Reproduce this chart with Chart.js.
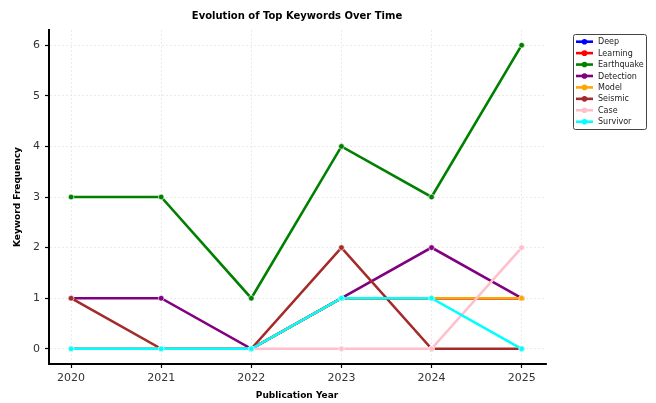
<!DOCTYPE html>
<html>
<head>
<meta charset="utf-8">
<script src="https://cdn.jsdelivr.net/npm/chart.js@4/dist/chart.umd.min.js"></script>
<style>
  html, body { margin: 0; padding: 0; background: #fff; }
  #wrap { width: 656px; height: 403px; position: relative; }
</style>
</head>
<body>
<div id="wrap"><canvas id="c" width="656" height="403"></canvas></div>
<script>
// Publication years on the x axis
const years = [2020, 2021, 2022, 2023, 2024, 2025];

// Keyword counts per year
const deep       = [0, 0, 0, 1, 1, 1];
const learning   = [0, 0, 0, 1, 1, 1];
const earthquake = [3, 3, 1, 4, 3, 6];
const detection  = [1, 1, 0, 1, 2, 1];
const model      = [0, 0, 0, 1, 1, 1];
const seismic    = [1, 0, 0, 2, 0, 0];
const caseCounts = [0, 0, 0, 0, 0, 2];
const survivor   = [0, 0, 0, 1, 1, 0];

const keywords = ['Deep', 'Learning', 'Earthquake', 'Detection', 'Model', 'Seismic', 'Case', 'Survivor'];
const seriesValues = [deep, learning, earthquake, detection, model, seismic, caseCounts, survivor];
const colors = ['#0000ff', '#ff0000', '#008000', '#800080', '#ffa500', '#a52a2a', '#ffc0cb', '#00ffff'];
const yTicks = [0, 1, 2, 3, 4, 5, 6];

const FONT = "'DejaVu Sans', sans-serif";

const datasets = keywords.map((name, i) => ({
  label: name,
  data: years.map((y, j) => ({ x: y, y: seriesValues[i][j] })),
  borderColor: colors[i],
  backgroundColor: colors[i],
  pointBackgroundColor: colors[i],
  pointBorderColor: '#ffffff',
  pointBorderWidth: 0.6,
  pointRadius: 2.8,
  borderWidth: 2.6,
  tension: 0,
  order: keywords.length - i  // later keywords drawn on top
}));

// Title, axis titles and the framed legend
const decorations = {
  id: 'decorations',
  afterDraw(chart) {
    const ctx = chart.ctx;
    ctx.save();
    ctx.fillStyle = '#000';
    ctx.textAlign = 'center';
    ctx.textBaseline = 'middle';
    ctx.font = `bold 10px ${FONT}`;
    ctx.fillText('Evolution of Top Keywords Over Time', 297, 16);
    ctx.font = `bold 9px ${FONT}`;
    ctx.fillText('Publication Year', 297, 396);
    ctx.save();
    ctx.translate(18, 197);
    ctx.rotate(-Math.PI / 2);
    ctx.fillText('Keyword Frequency', 0, 0);
    ctx.restore();

    // legend frame
    const bx = 573, by = 34, bw = 73, bh = 95;
    ctx.beginPath();
    if (ctx.roundRect) ctx.roundRect(bx + 0.5, by + 0.5, bw, bh, 2); else ctx.rect(bx + 0.5, by + 0.5, bw, bh);
    ctx.fillStyle = '#fff';
    ctx.fill();
    ctx.strokeStyle = '#444';
    ctx.lineWidth = 1;
    ctx.stroke();

    ctx.font = `8px ${FONT}`;
    ctx.textAlign = 'left';
    keywords.forEach((name, i) => {
      const y = 41.7 + i * 11.43;
      ctx.strokeStyle = colors[i];
      ctx.lineWidth = 2.6;
      ctx.beginPath();
      ctx.moveTo(576, y);
      ctx.lineTo(593, y);
      ctx.stroke();
      ctx.beginPath();
      ctx.arc(584.5, y, 2.8, 0, Math.PI * 2);
      ctx.fillStyle = colors[i];
      ctx.fill();
      ctx.fillStyle = '#222';
      ctx.fillText(name, 598, y + 0.5);
    });
    ctx.restore();
  }
};

new Chart(document.getElementById('c'), {
  type: 'line',
  data: { datasets },
  options: {
    responsive: false,
    animation: false,
    events: [],
    layout: { padding: { left: 0, top: 30, right: 110, bottom: 0 } },
    plugins: { legend: { display: false }, tooltip: { enabled: false }, title: { display: false } },
    scales: {
      x: {
        type: 'linear',
        min: 2019.755,
        max: 2025.27,
        afterBuildTicks: s => { s.ticks = years.map(v => ({ value: v })); },
        afterFit: s => { s.height = 39; },
        ticks: {
          callback: v => String(v),
          color: '#333',
          font: { family: FONT, size: 11 },
          padding: 4,
          maxRotation: 0
        },
        grid: {
          color: '#e6e6e6',
          tickColor: '#000',
          tickLength: 4,
          tickWidth: 1.2,
          lineWidth: 0.8
        },
        border: { display: true, color: '#000', width: 2, dash: [2, 2] }
      },
      y: {
        type: 'linear',
        min: -0.3,
        max: 6.3,
        afterBuildTicks: s => { s.ticks = yTicks.map(v => ({ value: v })); },
        afterFit: s => { s.width = 49; },
        ticks: {
          color: '#333',
          font: { family: FONT, size: 11 },
          padding: 5
        },
        grid: {
          color: '#e6e6e6',
          tickColor: '#000',
          tickLength: 4,
          tickWidth: 1.2,
          lineWidth: 0.8
        },
        border: { display: true, color: '#000', width: 2, dash: [2, 2] }
      }
    }
  },
  plugins: [decorations]
});
</script>
</body>
</html>
